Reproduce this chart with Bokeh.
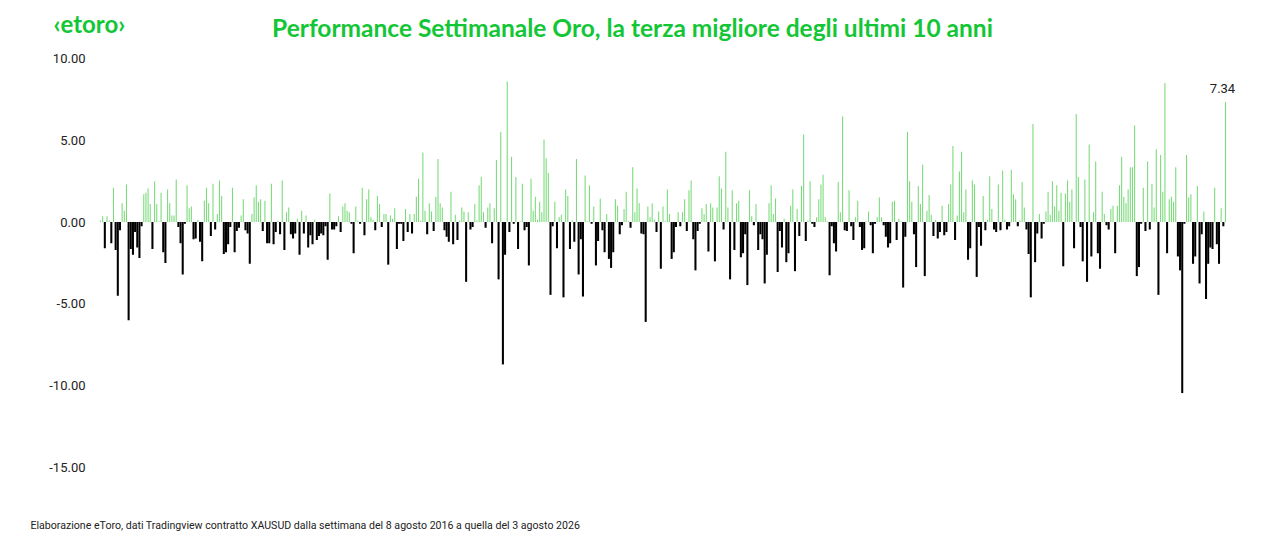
from bokeh.plotting import figure
from bokeh.models import ColumnDataSource, Range1d, Label, FixedTicker
from bokeh.embed import file_html
from bokeh.resources import INLINE

# Weekly % change of gold (XAUUSD)
weekly_change = [
    0.1, 0.35, -1.6, 0.35, 0.1, -1.3, 2.1, -1.7, -4.5, -0.5, 1.15, 0.7, 2.3, -6.0, -1.65, -2.0, -0.6, -1.55, -2.2, -0.25, 1.7, 1.8, 2.05, 1.1, -1.65, 2.5, 1.1, 0.05, 1.8, -1.85, -2.5, 2.0, 1.15, 0.4, 0.4, 2.6, -0.3, -1.3, -3.2, -0.1, 2.25, 0.85, 0.95, -1.05,
    -1.0, 0.15, -1.2, -2.4, 1.3, 2.1, 1.15, -0.85, 2.35, -0.45, 0.5, 2.55, 1.6, -1.95, -1.85, -1.35, -0.3, 2.1, -1.85, -0.55, -0.35, 0.4, 1.4, -0.5, -0.7, -2.55, 0.5, 1.5, 2.25, 1.25, 1.4, -0.55, 1.3, -1.3, -1.3, 2.35, -1.35, -0.6, 0.1, -0.75, 2.55, -1.7, 0.6,
    0.9, -0.75, -1.0, -0.7, 0.2, -2.0, 0.7, -0.7, 0.4, -1.55, -0.8, -1.35, 0.15, -1.1, -0.85, -0.7, -0.8, -0.25, -2.3, 1.75, -0.45, -0.45, -0.25, 0.35, -0.6, 0.95, 1.15, 0.7, 0.6, -0.1, -1.9, 0.95, 0.1, -0.1, 2.1, -0.8, 1.4, 2.0, 0.3, 0.15, -0.5, 1.6, 1.1, -0.3,
    0.5, 0.5, -2.6, 0.4, 0.2, 0.85, -1.65, -0.1, -0.1, -1.15, 0.8, -0.6, 0.5, -0.7, 0.5, 1.55, 2.65, 0.1, 4.25, 0.7, -0.75, 1.15, 0.65, -0.55, 1.55, 3.85, 1.15, 0.9, -0.5, -0.9, -1.2, 1.85, -1.35, 0.45, -1.1, 0.1, 0.9, 0.65, -3.65, 0.6, -0.45, -0.3, 1.1,
    0.1, 2.25, 2.75, 0.6, -0.35, 0.9, 1.15, -1.3, 0.85, 3.8, -3.5, 5.5, -8.7, -2.0, 8.6, -0.6, 4.0, -0.1, 2.75, -1.65, 0.05, 2.35, -0.5, -0.3, -2.65, 2.65, 0.7, 1.55, 0.15, 1.25, 0.6, 5.05, 3.9, 3.0, -4.45, -0.25, 1.25, -1.6, 0.3, 0.45, -4.6, 2.0, 1.6, -1.65,
    0.1, -1.2, 3.85, -3.2, -1.05, -4.55, 2.85, 0.05, 2.25, -0.1, 0.95, -2.65, -1.15, 1.45, -0.5, -1.85, 0.5, -2.25, -2.8, -1.85, 1.4, 1.0, -0.75, -0.2, 0.8, 1.85, 0.05, -0.35, 3.35, 0.6, 2.05, 1.15, -0.7, -0.75, -6.1, 0.95, 0.3, 1.15, 0.15, -0.6, 0.65, -2.85, 0.95, 0.05,
    2.0, 0.5, -2.25, -1.85, -0.3, 0.6, -0.25, 0.6, 1.4, -0.55, 1.95, 2.55, -1.05, -2.95, -0.55, -0.1, 0.85, 0.5, 1.1, -1.8, 1.15, 0.9, -2.4, 0.9, 2.8, 2.05, -0.45, 4.3, 0.9, -3.5, 1.95, -1.7, 1.15, 1.3, -2.15, -1.9, -0.75, -3.85, 1.95, 0.35, -0.2, 1.1, -1.7, -0.75, -1.05,
    -3.75, -2.0, 1.15, 2.25, 0.5, 1.45, -3.05, -0.55, -1.55, 0.2, -2.45, -1.9, 1.0, 2.0, -3.0, 0.8, -0.85, 2.2, 5.35, -1.15, 0.1, 2.5, -0.1, -0.3, 0.3, 1.4, 2.3, 2.9, 0.3, 0.05, -3.25, -0.25, -1.3, -1.8, 2.45, 0.6, 6.45, -0.5, -0.55, 1.95, -0.25, -1.1, 0.3,
    1.3, -0.3, -1.7, -1.6, 0.05, 0.65, -0.2, -1.9, -0.1, 0.3, 1.5, 0.3, -0.2, -0.9, -1.55, -1.3, 1.25, 1.3, -1.1, 0.2, 0.05, -4.0, -0.9, 5.5, 2.5, 1.25, -0.75, -2.75, 2.2, 1.1, 3.5, -3.3, 0.7, 1.65, 0.45, -0.85, 0.15, -1.0, -0.6, 1.0, -0.8, -0.6, 1.1, 2.3,
    4.65, -1.1, 0.4, 3.1, 4.3, 0.6, 2.0, -2.3, -1.6, 2.55, 2.3, -3.35, -0.3, -1.45, 1.6, -0.5, 0.15, 2.8, 0.8, -0.45, -0.6, 2.3, -0.5, 3.15, 0.15, -0.45, -0.25, 3.2, 1.7, 1.4, -0.25, 0.1, 2.45, 0.9, -0.45, -1.95, -4.6, 6.0, -2.45, -0.7, 0.5, -1.0, -0.1, 0.65,
    1.85, 0.45, 2.5, 0.95, 2.25, 0.7, 1.8, -2.7, 1.75, 2.55, 1.25, 2.0, -1.6, 6.6, 2.75, -0.3, -2.4, 2.6, -3.65, 4.75, -2.1, 0.6, 3.7, -1.9, -2.85, 1.85, 0.5, -0.2, -0.45, 0.8, 1.0, -1.9, 1.0, 2.25, 4.0, 1.55, 1.15, 2.0, 3.35, 3.35, 5.9, -3.3, -2.75, -0.1,
    2.1, -0.55, 3.7, -0.45, 2.35, 0.9, 4.45, -4.45, 4.1, 1.85, 8.5, -1.9, 1.4, 1.55, 1.25, 3.35, -2.1, -2.95, -10.45, -0.1, 4.1, 1.5, 1.7, -2.55, -2.1, 2.2, -3.75, -0.75, 0.65, -4.7, -2.55, -1.55, -1.65, 2.1, -1.35, -2.55, 0.85, -0.25, 7.34,
]

y_ticks = [-15, -10, -5, 0, 5, 10]
y_tick_labels = ["-15.00", "-10.00", "-5.00", "0.00", "5.00", "10.00"]
title_text = "Performance Settimanale Oro, la terza migliore degli ultimi 10 anni"
brand_text = "\u2039etoro\u203a"
source_text = ("Elaborazione eToro, dati Tradingview contratto XAUSUD dalla settimana "
               "del 8 agosto 2016 a quella del 3 agosto 2026")
last_label = "7.34"

GREEN = "#13c636"
BAR_UP = "#7bdb7b"
BAR_DOWN = "#000000"
TEXT = "#222222"

W, H = 1265, 539
n = len(weekly_change)

# the frame covers the whole canvas; 10 sits at y=58 px, -15 at y=467 px,
# the first week at x=100 px and the last one at x=1225 px
PX_PER_UNIT = (467 - 58) / 25.0
PX_PER_WEEK = (1225 - 100) / (n - 1)
y_top = 10 + 58 / PX_PER_UNIT
y_bot = -15 - (H - 467) / PX_PER_UNIT
x_lo = -100 / PX_PER_WEEK
x_hi = (W - 100) / PX_PER_WEEK

up_x = [i for i, v in enumerate(weekly_change) if v > 0]
up_v = [v for v in weekly_change if v > 0]
dn_x = [i for i, v in enumerate(weekly_change) if v <= 0]
dn_v = [v for v in weekly_change if v <= 0]
up_src = ColumnDataSource(dict(x=up_x, top=up_v))
dn_src = ColumnDataSource(dict(x=dn_x, top=dn_v))

p = figure(width=W, height=H, output_backend="svg", toolbar_location=None,
           x_axis_type=None, x_range=Range1d(x_lo, x_hi),
           y_range=Range1d(y_bot, y_top),
           min_border_left=0, min_border_right=0,
           min_border_top=0, min_border_bottom=0)
p.title.visible = False
p.outline_line_color = None
p.background_fill_color = "white"
p.border_fill_color = "white"
p.ygrid.grid_line_color = None

p.vbar(x="x", top="top", bottom=0, width=0.5, source=up_src,
       fill_color=BAR_UP, line_color=None)
p.vbar(x="x", top="top", bottom=0, width=0.95, source=dn_src,
       fill_color=BAR_DOWN, line_color=None)

# y axis: labels drawn inside the canvas, right edge at x=85 px
ax = p.yaxis[0]
ax.ticker = FixedTicker(ticks=y_ticks)
ax.major_label_overrides = {t: s for t, s in zip(y_ticks, y_tick_labels)}
ax.axis_line_color = None
ax.major_tick_line_color = None
ax.minor_tick_line_color = None
ax.major_tick_out = 0
ax.major_tick_in = 0
ax.major_label_standoff = -85
ax.major_label_text_font = "Roboto"
ax.major_label_text_font_size = "13px"
ax.major_label_text_color = TEXT

# texts (screen units: x from left edge, y from bottom edge)
p.add_layout(Label(x=53, y=H - 23, x_units="screen", y_units="screen",
                   text=brand_text, text_align="left", text_baseline="middle",
                   text_font="Lato", text_font_style="bold", text_font_size="24px",
                   text_color=GREEN))
p.add_layout(Label(x=632, y=H - 27, x_units="screen", y_units="screen",
                   text=title_text, text_align="center", text_baseline="middle",
                   text_font="Lato", text_font_style="bold", text_font_size="24.5px",
                   text_color=GREEN))
p.add_layout(Label(x=n - 1, y=weekly_change[-1], x_offset=-3, y_offset=9,
                   text=last_label, text_align="center", text_baseline="bottom",
                   text_font="Roboto", text_font_size="13px", text_color=TEXT))
p.add_layout(Label(x=30, y=H - 525, x_units="screen", y_units="screen",
                   text=source_text, text_align="left", text_baseline="middle",
                   text_font="Roboto", text_font_size="10.6px", text_color=TEXT))

open("out.html", "w").write(file_html(p, INLINE))
